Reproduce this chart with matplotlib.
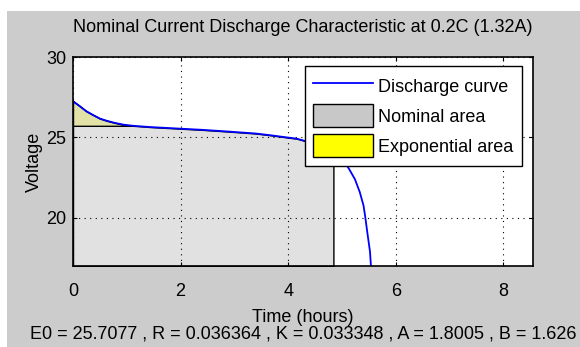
import matplotlib
matplotlib.use("Agg")
import matplotlib.pyplot as plt
from matplotlib.patches import Rectangle, Patch
from matplotlib.lines import Line2D
import numpy as np

# ── data ──
t_hours = [0.00, 0.13, 0.25, 0.38, 0.50, 0.63, 0.78, 0.94, 1.12, 1.45, 1.95,
           2.40, 2.90, 3.40, 3.70, 3.97, 4.16, 4.31, 4.50, 4.70, 4.84, 5.00,
           5.12, 5.24, 5.33, 5.40, 5.43, 5.47, 5.52, 5.54]
voltage = [27.25, 26.93, 26.62, 26.38, 26.17, 26.03, 25.90, 25.79, 25.72, 25.64,
           25.55, 25.47, 25.36, 25.24, 25.12, 25.00, 24.92, 24.78, 24.55, 24.25,
           23.95, 23.60, 23.10, 22.40, 21.60, 20.76, 20.10, 19.10, 17.90, 16.90]
t_exp = 1.12      # end of exponential zone
v_exp = 25.72
t_nom = 4.84      # end of nominal zone
x_ticks = [0, 2, 4, 6, 8]
y_ticks = [20, 25, 30]
params = "E0 = 25.7077 , R = 0.036364 , K = 0.033348 , A = 1.8005 , B = 1.626"

FONT = ["Liberation Sans Narrow", "Liberation Sans", "DejaVu Sans"]
plt.rcParams["font.family"] = FONT

W, H = 580, 347
fig = plt.figure(figsize=(W / 100, H / 100), dpi=100)
fig.patch.set_facecolor("white")
# grey window area with white strip at top/left
fig.add_artist(Rectangle((7 / W, 0), 1, 1 - 11 / H, transform=fig.transFigure,
                         facecolor="#cccccc", edgecolor="none", zorder=-10))

ax = fig.add_axes([73 / W, 1 - 266 / H, (533 - 73) / W, (266 - 57) / H])
ax.set_facecolor("white")

t = np.array(t_hours)
v = np.array(voltage)

# nominal area (under curve up to t_nom)
m = t <= t_nom
tn = np.append(t[m], t_nom)
vn = np.append(v[m], np.interp(t_nom, t, v))
ax.fill_between(tn, vn, 17, facecolor="#e1e1e1", edgecolor="black", lw=1, zorder=1)

# exponential area (between curve and v_exp up to t_exp)
m = t <= t_exp
ax.fill_between(t[m], v[m], v_exp, facecolor="#e2e2a6", edgecolor="black", lw=1, zorder=2)

ax.plot(t, v, color="#0000ff", lw=1.3, zorder=4)

ax.set_xlim(0, 8.55)
ax.set_ylim(17, 30)
ax.set_xticks(x_ticks)
ax.set_yticks(y_ticks)
ax.grid(True, color="black", linestyle=(0, (1, 4)), lw=0.8, zorder=3)
ax.set_axisbelow(False)
ax.tick_params(direction="in", length=3, top=True, right=True,
               labelsize=13, colors="black")
ax.tick_params(axis="x", pad=12)
ax.tick_params(axis="y", pad=5)
for s in ax.spines.values():
    s.set_linewidth(1.2)
    s.set_zorder(5)

ax.set_title("Nominal Current Discharge Characteristic at 0.2C (1.32A)",
             fontsize=13, pad=18)
ax.set_ylabel("Voltage", fontsize=13, labelpad=2)
ax.set_xlabel("Time (hours)\n" + params, fontsize=13, labelpad=7, linespacing=0.95)

handles = [Line2D([], [], color="#0000ff", lw=1.3),
           Patch(facecolor="#c8c8c8", edgecolor="black", lw=1),
           Patch(facecolor="#ffff00", edgecolor="black", lw=1)]
leg = ax.legend(handles, ["Discharge curve", "Nominal area", "Exponential area"],
                loc="upper left", bbox_to_anchor=(305 / W, 1 - 66 / H),
                bbox_transform=fig.transFigure, borderaxespad=0,
                fontsize=13, fancybox=False, framealpha=1, edgecolor="black",
                handlelength=3.3, handleheight=1.6, handletextpad=0.3,
                labelspacing=0.38, borderpad=0.45)
leg.get_frame().set_linewidth(1)
leg.set_zorder(10)

fig.savefig("out.png", dpi=100)
